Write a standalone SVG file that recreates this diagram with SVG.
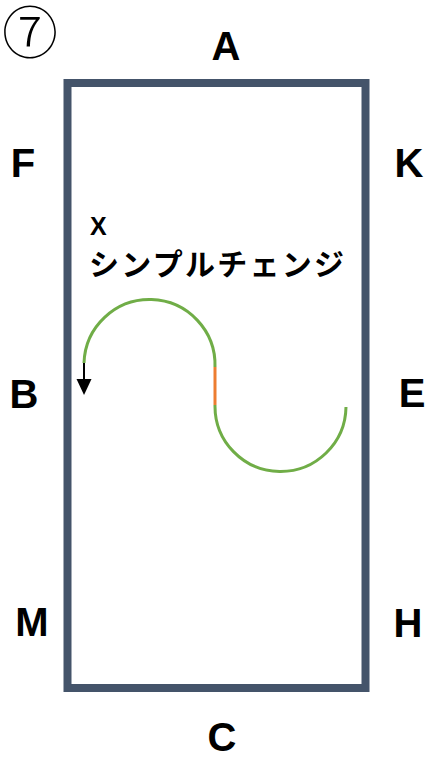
<svg xmlns="http://www.w3.org/2000/svg" width="427" height="758" viewBox="0 0 427 758">
<style>
.lt{font-family:"Liberation Sans",Arial,sans-serif;font-weight:bold;font-size:40px;fill:#000;text-anchor:middle}
.jp{font-family:"Noto Sans CJK JP",sans-serif;font-weight:bold;fill:#000}
.g{fill:none;stroke:#70AD47;stroke-width:3}
.o{fill:none;stroke:#ED7D31;stroke-width:3}
</style>
<rect width="427" height="758" fill="#fff"/>
<text x="30" y="53" style="font-family:'Noto Sans CJK JP',sans-serif;font-weight:300;font-size:56px" text-anchor="middle">⑦</text>
<g id="arena"><rect x="67.5" y="83" width="298" height="605" fill="none" stroke="#44546A" stroke-width="8"/></g>
<g id="letters">
<text id="A" class="lt" x="226" y="60">A</text>
<text id="F" class="lt" x="23" y="177">F</text>
<text id="K" class="lt" x="409" y="177">K</text>
<text id="B" class="lt" x="24" y="408">B</text>
<text id="E" class="lt" x="412" y="407">E</text>
<text id="M" class="lt" x="32" y="636">M</text>
<text id="H" class="lt" x="408" y="637">H</text>
<text id="C" class="lt" x="222" y="751">C</text>
</g>
<g id="label">
<text x="90" y="235" style="font-family:'Liberation Sans',Arial,sans-serif;font-weight:bold;font-size:25px">X</text>
<text class="jp" x="89" y="275" font-size="30" textLength="255">シンプルチェンジ</text>
</g>
<g id="connectors">
<path class="g" d="M215,367 A65.5,65.5 0 0 0 84,363"/>
<path class="o" d="M215,367 L215,405"/>
<path class="g" d="M215,405 A65.5,65.5 0 0 0 346,407"/>
<line x1="84" y1="363" x2="84" y2="381" stroke="#000" stroke-width="2"/>
<polygon points="76.5,379 91.5,379 84,395" fill="#000"/>
</g>
</svg>
